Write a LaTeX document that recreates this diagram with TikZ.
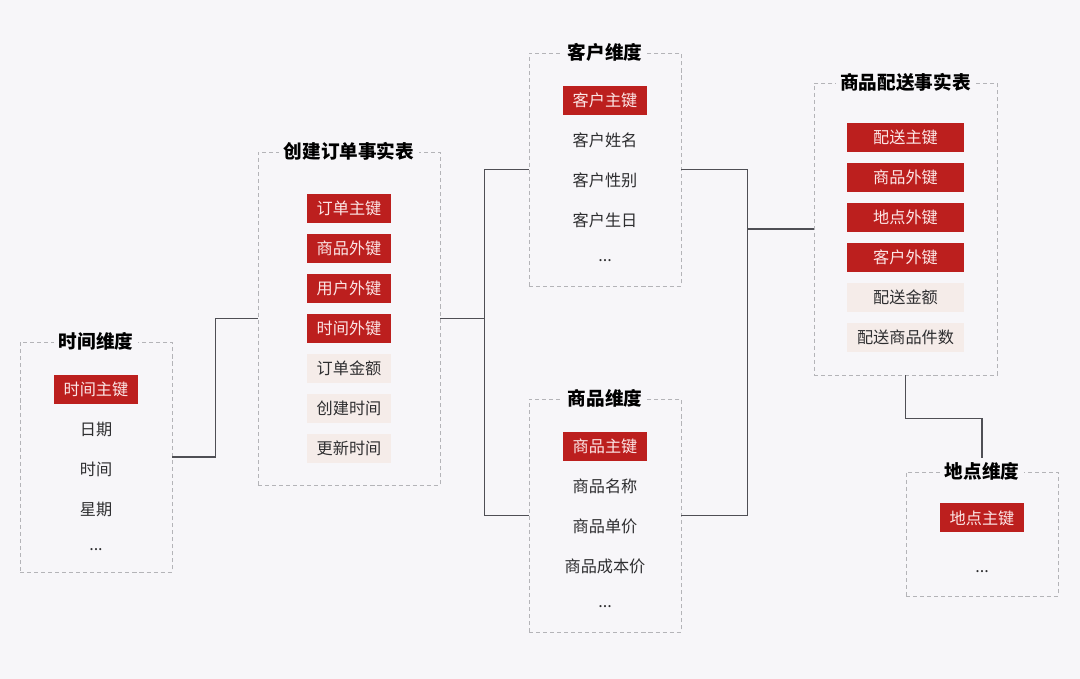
\documentclass[tikz,border=0pt]{standalone}
\usepackage{fontspec}
\setmainfont{Noto Sans CJK SC}
\usetikzlibrary{positioning}
\definecolor{bgcol}{HTML}{F7F6F9}
\definecolor{keyred}{HTML}{BC1F1E}
\definecolor{keytext}{HTML}{FCE6E6}
\definecolor{measfill}{HTML}{F5ECE9}
\definecolor{dashgray}{HTML}{B4B4B8}
\definecolor{linkgray}{HTML}{4F4F55}
\definecolor{textgray}{HTML}{2E2E30}

\begin{document}
\begin{tikzpicture}[x=0.02cm, y=-0.02cm, node distance=0.205cm,
    tablebox/.style={draw=dashgray, dashed, dash pattern=on 2.3pt off 1.7pt, line width=0.5pt, fill=bgcol, minimum width=3.04cm, inner sep=0pt},
    boxtitle/.style={fill=bgcol, text=black, inner sep=2.5pt, font=\bfseries\fontsize{10.6}{12}\selectfont},
    item/.style={minimum width=1.7cm, minimum height=0.58cm, inner sep=0pt, text=textgray, font=\fontsize{9.2}{11}\selectfont},
    pkey/.style={item, fill=keyred, text=keytext},
    measure/.style={item, fill=measfill},
    link/.style={draw=linkgray, line width=0.6pt}]
  \useasboundingbox[fill=bgcol] (0,0) rectangle (1080,679);

  % dashed table frames
  \node (timebox) [tablebox, minimum height=4.6cm] at (96,457) {};
  \node (ordbox) [tablebox, minimum width=3.64cm, minimum height=6.66cm] at (349,318.5) {};
  \node (custbox) [tablebox, minimum height=4.66cm] at (605,169.5) {};
  \node (prodbox) [tablebox, minimum height=4.66cm] at (605,515.5) {};
  \node (delbox) [tablebox, minimum width=3.66cm, minimum height=5.84cm] at (905.5,229) {};
  \node (locbox) [tablebox, minimum height=2.48cm] at (982,534) {};

  % connectors
  \draw[link] (timebox.east) -- ++(43,0) |- (ordbox.west);
  \draw[link] (ordbox.east) -- ++(44,0) coordinate (ordjoin);
  \draw[link] (custbox.west) -| (ordjoin) |- (prodbox.west);
  \draw[link] (delbox.west) -- ++(-66,0) coordinate (deljoin);
  \draw[link] (custbox.east) -| (deljoin) |- (prodbox.east);

  % time dimension
  \node (timetitle) [boxtitle] at (timebox.north) {时间维度};
  \node (timepk) [pkey, below=0.66cm of timebox.north] {时间主键};
  \node (timedate) [item, below=of timepk] {日期};
  \node (timeclock) [item, below=of timedate] {时间};
  \node (timeweek) [item, below=of timeclock] {星期};
  \node (timemore) [item, below=of timeweek] {...};

  % order fact table
  \node (ordtitle) [boxtitle] at (ordbox.north) {创建订单事实表};
  \node (ordpk) [pkey, below=0.84cm of ordbox.north] {订单主键};
  \node (ordprod) [pkey, below=of ordpk] {商品外键};
  \node (orduser) [pkey, below=of ordprod] {用户外键};
  \node (ordtime) [pkey, below=of orduser] {时间外键};
  \node (ordamount) [measure, below=of ordtime] {订单金额};
  \node (ordcreate) [measure, below=of ordamount] {创建时间};
  \node (ordupdate) [measure, below=of ordcreate] {更新时间};

  % customer dimension
  \node (custtitle) [boxtitle] at (custbox.north) {客户维度};
  \node (custpk) [pkey, below=0.66cm of custbox.north] {客户主键};
  \node (custname) [item, below=of custpk] {客户姓名};
  \node (custsex) [item, below=of custname] {客户性别};
  \node (custbirth) [item, below=of custsex] {客户生日};
  \node (custmore) [item, below=of custbirth] {...};

  % product dimension
  \node (prodtitle) [boxtitle] at (prodbox.north) {商品维度};
  \node (prodpk) [pkey, below=0.66cm of prodbox.north] {商品主键};
  \node (prodname) [item, below=of prodpk] {商品名称};
  \node (prodprice) [item, below=of prodname] {商品单价};
  \node (prodcost) [item, below=of prodprice] {商品成本价};
  \node (prodmore) [item, below=of prodcost] {...};

  % delivery fact table
  \node (deltitle) [boxtitle] at (delbox.north) {商品配送事实表};
  \node (delpk) [pkey, minimum width=2.36cm, below=0.8cm of delbox.north] {配送主键};
  \node (delprod) [pkey, minimum width=2.36cm, below=of delpk] {商品外键};
  \node (delloc) [pkey, minimum width=2.36cm, below=of delprod] {地点外键};
  \node (delcust) [pkey, minimum width=2.36cm, below=of delloc] {客户外键};
  \node (delamount) [measure, minimum width=2.36cm, below=of delcust] {配送金额};
  \node (delcount) [measure, minimum width=2.36cm, below=of delamount] {配送商品件数};

  % location dimension
  \node (loctitle) [boxtitle] at (locbox.north) {地点维度};
  \node (locpk) [pkey, below=0.63cm of locbox.north] {地点主键};
  \node (locmore) [item, below=0.48cm of locpk] {...};

  \draw[link] (delbox.south) -- ++(0,43) -| (loctitle.north);
\end{tikzpicture}
\end{document}
